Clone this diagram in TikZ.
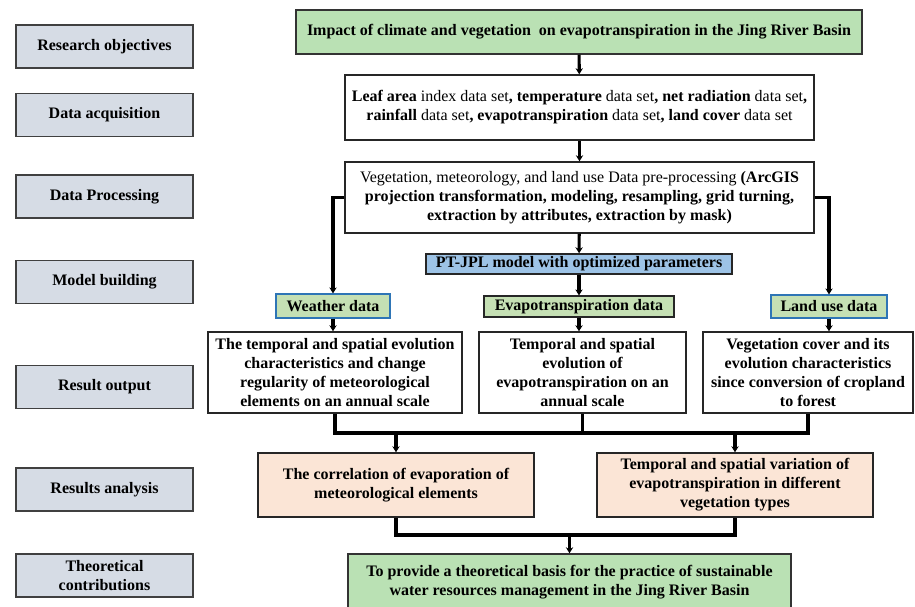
\documentclass[tikz,border=0pt]{standalone}
\usepackage{fontspec}
\setmainfont{Liberation Serif}
\usetikzlibrary{arrows.meta}
\definecolor{stagefill}{HTML}{D6DCE5}
\definecolor{aimfill}{HTML}{BAE1B4}
\definecolor{modelfill}{HTML}{9DC3E6}
\definecolor{tagfill}{HTML}{C5E0B4}
\definecolor{tagdraw}{HTML}{2E75B6}
\definecolor{findfill}{HTML}{FBE5D6}

\begin{document}
\begin{tikzpicture}[x=0.75pt,y=-0.75pt,>={Stealth[length=4.5pt,width=5.5pt]},semithick,
            every node/.style={font=\fontsize{12pt}{14.25pt}\selectfont, inner sep=0pt, align=center},
            stage/.style={draw=black!75, fill=stagefill, line width=1.1pt, font=\fontsize{12pt}{14.25pt}\selectfont\bfseries,
                minimum width=132.75pt, minimum height=32.25pt},
            aim/.style={draw=black!80, fill=aimfill, line width=1.1pt, font=\fontsize{12pt}{14.25pt}\selectfont\bfseries},
            wbox/.style={draw=black!85, fill=white, line width=1.1pt},
            model/.style={draw=black!85, fill=modelfill, line width=1.1pt, font=\fontsize{12pt}{14.25pt}\selectfont\bfseries},
            tag/.style={draw=tagdraw, fill=tagfill, line width=0.9pt, font=\fontsize{12pt}{14.25pt}\selectfont\bfseries},
            finding/.style={draw=black!85, fill=findfill, line width=1.1pt, font=\fontsize{12pt}{14.25pt}\selectfont\bfseries},
            flow/.style={line width=2.3pt}]
            \fill[white] (0,0) rectangle (915,607);
            \useasboundingbox (0,0) rectangle (915,607);
            % left column
            \node[stage]	(l1)	at (104.5,46.5)		{Research objectives};
            \node[stage]	(l2)	at (104.5,115)		{Data acquisition};
            \node[stage]	(l3)	at (104.5,196.5)	{Data Processing};
            \node[stage]	(l4)	at (104.5,282)		{Model building};
            \node[stage]	(l5)	at (104.5,387)		{Result output};
            \node[stage]	(l6)	at (104.5,489.5)	{Results analysis};
            \node[stage]	(l7)	at (104.5,575.5)	{Theoretical\\contributions};
            % flow chart
            \node[aim, minimum width=424.5pt, minimum height=33pt]	(goal)	at (579,32)
                {Impact of climate and vegetation \ on evapotranspiration in the Jing River Basin};
            \node[wbox, minimum width=351.75pt, minimum height=48.75pt]	(data)	at (579.5,107.5)
                {\textbf{Leaf area} index data set\textbf{, temperature} data set\textbf{, net radiation} data set\textbf{,}\\
                 \textbf{rainfall} data set\textbf{, evapotranspiration} data set\textbf{, land cover} data set};
            \node[wbox, minimum width=351.75pt, minimum height=53.25pt]	(prep)	at (579.5,197.5)
                {Vegetation, meteorology, and land use Data pre-processing \textbf{(ArcGIS}\\
                 \textbf{projection transformation, modeling, resampling, grid turning,}\\
                 \textbf{extraction by attributes, extraction by mask)}};
            \node[model, minimum width=229.5pt, minimum height=15pt]	(ptjpl)	at (579,264)	{PT-JPL model with optimized parameters};
            \node[tag, minimum width=85.5pt, minimum height=18pt]	(wd)	at (333,306)	{Weather data};
            \node[tag, draw=black!85, minimum width=142.5pt, minimum height=15.75pt]	(etd)	at (579,306.5)	{Evapotranspiration data};
            \node[tag, minimum width=87pt, minimum height=17.25pt]	(lud)	at (829,306.5)	{Land use data};
            \node[wbox, font=\fontsize{12pt}{14.25pt}\selectfont\bfseries, minimum width=190.5pt, minimum height=60.75pt]	(r1)	at (335,372.5)
                {The temporal and spatial evolution\\characteristics and change\\regularity of meteorological\\elements on an annual scale};
            \node[wbox, font=\fontsize{12pt}{14.25pt}\selectfont\bfseries, minimum width=155.25pt, minimum height=60.75pt]	(r2)	at (582.5,372.5)
                {Temporal and spatial\\evolution of\\evapotranspiration on an\\annual scale};
            \node[wbox, font=\fontsize{12pt}{14.25pt}\selectfont\bfseries, minimum width=157.5pt, minimum height=60.75pt]	(r3)	at (808,372.5)
                {Vegetation cover and its\\evolution characteristics\\since conversion of cropland\\to forest};
            \node[finding, minimum width=207pt, minimum height=48pt]	(a1)	at (396,485)
                {The correlation of evaporation of\\meteorological elements};
            \node[finding, minimum width=207pt, minimum height=48pt]	(a2)	at (735,485)
                {Temporal and spatial variation of\\evapotranspiration in different\\vegetation types};
            \node[aim, minimum width=332.25pt, minimum height=42pt]	(basis)	at (569.5,582)
                {To provide a theoretical basis for the practice of sustainable\\water resources management in the Jing River Basin};
            \coordinate	(bus)	at (582,433);
            \coordinate	(join)	at (569.5,535);
            % connectors
            \path[flow,->]	(goal)	edge	(data)
                    (data)	edge	(prep)
                    (prep)	edge	(ptjpl)
                    (ptjpl)	edge	(etd)
                    (wd)	edge	(wd |- r1.north)
                    (etd)	edge	(etd |- r2.north)
                    (lud)	edge	(lud |- r3.north)
                    (a1.north |- bus)	edge	(a1.north)
                    (a2.north |- bus)	edge	(a2.north)
                    (join)	edge	(basis);
            \draw[flow,->]	(prep.west) -| (wd);
            \draw[flow,->]	(prep.east) -| (lud);
            \draw[flow]	(r1.south) |- (bus) -| (r3.south);
            \draw[flow]	(r2.south) -- (r2.south |- bus);
            \draw[flow]	(a1.south) |- (join) -| (a2.south);
        \end{tikzpicture}
\end{document}
